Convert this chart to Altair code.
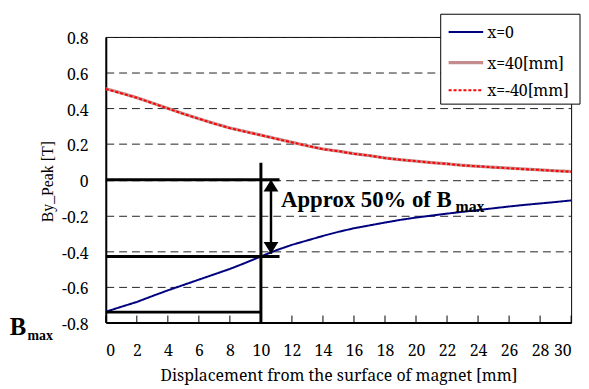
import altair as alt
import pandas as pd

# ---- data ----
x_mm = list(range(0, 31))
by_x0 = [-0.740, -0.712, -0.685, -0.652, -0.620, -0.590, -0.560, -0.530, -0.500, -0.466,
         -0.430, -0.395, -0.365, -0.340, -0.315, -0.292, -0.272, -0.256, -0.240, -0.225,
         -0.212, -0.201, -0.190, -0.180, -0.170, -0.160, -0.150, -0.141, -0.133, -0.125, -0.116]
by_x40 = [0.510, 0.486, 0.460, 0.430, 0.400, 0.370, 0.342, 0.315, 0.290, 0.270,
          0.250, 0.230, 0.210, 0.190, 0.172, 0.160, 0.146, 0.135, 0.122, 0.112,
          0.104, 0.096, 0.089, 0.081, 0.075, 0.070, 0.065, 0.060, 0.055, 0.050, 0.046]
by_xm40 = [0.508, 0.484, 0.459, 0.429, 0.399, 0.369, 0.341, 0.314, 0.289, 0.269,
           0.249, 0.229, 0.209, 0.190, 0.171, 0.160, 0.145, 0.135, 0.121, 0.112,
           0.104, 0.095, 0.089, 0.080, 0.075, 0.069, 0.064, 0.059, 0.055, 0.049, 0.045]
series = ["x=0", "x=40[mm]", "x=-40[mm]"]
colors = ["#00007F", "#C48C8C", "#FF0000"]
dashes = [[1, 0], [1, 0], [3, 2]]
widths = [2, 3.2, 2]

x_ticks = list(range(0, 31, 2))
y_ticks = [-0.8, -0.6, -0.4, -0.2, 0, 0.2, 0.4, 0.6, 0.8]

# annotation geometry (data units)
h_lines_y = [0, -0.43, -0.742]
h_lines_x2 = [11.2, 11.2, 9.95]
v_line_x = [10]
v_line_y = [0.095]
v_line_y2 = [-0.8]
arrow_x = [10.65]
arrow_top = [0]
arrow_bottom = [-0.415]
note_text = ["Approx 50% of B"]
note_x = [11.3]
note_y = [-0.151]
note_sub_x = [22.55]
note_sub_y = [-0.183]
bmax_x = [-6.2]
bmax_y = [-0.87]
bmax_sub_x = [-5.05]
bmax_sub_y = [-0.898]

FONT = "Liberation Serif"
WIDE = "Noto Serif"

xs = alt.Scale(domain=[0, 30], nice=False, zero=False)
ys = alt.Scale(domain=[-0.8, 0.8], nice=False, zero=False)

xaxis = alt.Axis(
    values=x_ticks, title="Displacement from the surface of magnet [mm]",
    labelFont=WIDE, labelFontSize=16, labelColor="black", tickSize=0, labelOverlap=False,
    labelPadding=20, titleFont=WIDE, titleFontSize=16, titleFontWeight="normal",
    titleColor="black", titleBaseline="alphabetic", titleY=59, grid=False,
    domainColor="black", domainWidth=2)
yaxis = alt.Axis(
    values=y_ticks, title="By_Peak [T]",
    labelExpr="datum.value == 0 ? '0' : (datum.value < 0 ? '-' : '') + format(abs(datum.value), '.1f')",
    labelFont=WIDE, labelFontSize=16, labelColor="black", tickSize=0, labelOverlap=False,
    labelPadding=18, labelOffset=2, titleFont=FONT, titleFontSize=16,
    titleFontWeight="normal", titleColor="black", titleAngle=270,
    titleBaseline="alphabetic", titleX=-54, titleY=146, titleAlign="center",
    grid=True, gridDash=[8, 5], gridColor="#222222", gridWidth=1,
    domainColor="black", domainWidth=2)


def X(field):
    return alt.X(field, scale=xs, axis=xaxis)


def Y(field):
    return alt.Y(field, scale=ys, axis=yaxis)


layers = []
for name, vals, col, dsh, wid in zip(series, [by_x0, by_x40, by_xm40], colors, dashes, widths):
    d = pd.DataFrame({"x": x_mm, "y": vals, "series": name})
    layers.append(alt.Chart(d).mark_line(clip=True, color=col, strokeDash=dsh, strokeWidth=wid).encode(
        x=X("x:Q"), y=Y("y:Q")))

tick_df = pd.DataFrame({"t": x_ticks})
layers.append(alt.Chart(tick_df).mark_rule(color="black", strokeWidth=1).encode(
    x=X("t:Q"), y=alt.value(282), y2=alt.value(289)))

h_df = pd.DataFrame({"y": h_lines_y, "x0": [0] * len(h_lines_y), "x2": h_lines_x2})
layers.append(alt.Chart(h_df).mark_rule(color="black", strokeWidth=3).encode(
    x=X("x0:Q"), x2="x2:Q", y=Y("y:Q")))

v_df = pd.DataFrame({"x": v_line_x, "y": v_line_y, "y2": v_line_y2})
layers.append(alt.Chart(v_df).mark_rule(color="black", strokeWidth=3).encode(
    x=X("x:Q"), y=Y("y:Q"), y2="y2:Q"))

a_df = pd.DataFrame({"x": arrow_x, "y": arrow_top, "y2": arrow_bottom})
layers.append(alt.Chart(a_df).mark_rule(color="black", strokeWidth=2.5).encode(
    x=X("x:Q"), y=Y("y:Q"), y2="y2:Q"))
layers.append(alt.Chart(a_df).mark_point(
    shape="M0,0L0.5,0.8L-0.5,0.8Z", filled=True, color="black", opacity=1, size=900, strokeWidth=0
).encode(x=X("x:Q"), y=Y("y:Q")))
layers.append(alt.Chart(a_df).mark_point(
    shape="M0,0L0.5,-0.8L-0.5,-0.8Z", filled=True, color="black", opacity=1, size=900, strokeWidth=0
).encode(x=X("x:Q"), y=Y("y2:Q")))


def txt(df, size, align="left"):
    return alt.Chart(df).mark_text(
        font=FONT, fontSize=size, fontWeight="bold", color="black", align=align, baseline="alphabetic"
    ).encode(x=X("x:Q"), y=Y("y:Q"), text="t:N")


layers.append(txt(pd.DataFrame({"t": note_text, "x": note_x, "y": note_y}), 23))
layers.append(txt(pd.DataFrame({"t": ["max"], "x": note_sub_x, "y": note_sub_y}), 16))
layers.append(txt(pd.DataFrame({"t": ["B"], "x": bmax_x, "y": bmax_y}), 25))
layers.append(txt(pd.DataFrame({"t": ["max"], "x": bmax_sub_x, "y": bmax_sub_y}), 14))

# ---- legend box (drawn as marks, positioned relative to the plot area) ----
leg_df = pd.DataFrame({"k": [0]})
layers.append(alt.Chart(leg_df).mark_rect(fill="white", stroke="black", strokeWidth=1).encode(
    x=alt.value(339), x2=alt.value(480), y=alt.value(-23), y2=alt.value(68)))
leg_rows = [-5, 26, 54]
for name, col, dsh, wid, ry in zip(series, colors, dashes, widths, leg_rows):
    layers.append(alt.Chart(leg_df).mark_rule(color=col, strokeDash=dsh, strokeWidth=wid).encode(
        x=alt.value(347), x2=alt.value(382), y=alt.value(ry)))
    layers.append(alt.Chart(pd.DataFrame({"t": [name]})).mark_text(
        font=WIDE, fontSize=16, color="black", align="left", baseline="middle"
    ).encode(x=alt.value(386), y=alt.value(ry + 1), text="t:N"))

chart = alt.layer(*layers).properties(
    width=471, height=289,
    autosize=alt.AutoSizeParams(type="none"),
    padding={"left": 99, "top": 27, "right": 10, "bottom": 63},
    background="white",
).configure_view(stroke="black", strokeWidth=1)

chart.save("out.html", embed_options={"renderer": "svg", "actions": False})
